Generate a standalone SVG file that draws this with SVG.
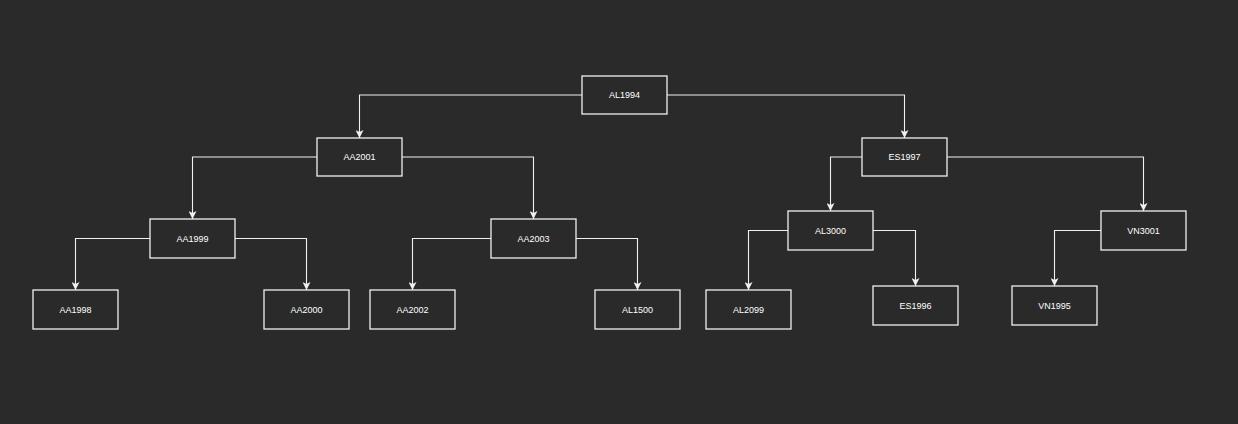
<svg xmlns="http://www.w3.org/2000/svg" width="1238" height="424" viewBox="0 0 1238 424">
<style>
.n rect{fill:#2a2a2a;stroke:#f0f0f0;stroke-width:1.3}
.n text{fill:#ffffff;font-family:"Liberation Sans",Arial,sans-serif;font-size:9px;text-anchor:middle;dominant-baseline:central}
.e path{fill:none;stroke:#f0f0f0;stroke-width:1.1;marker-end:url(#arr)}
</style>
<defs>
<marker id="arr" viewBox="0 0 8 8" refX="8" refY="4" markerWidth="8" markerHeight="8" markerUnits="userSpaceOnUse" orient="auto">
<path d="M0,0 L8,4 L0,8 L2,4 z" fill="#f0f0f0"/>
</marker>
</defs>
<rect width="1238" height="424" fill="#2a2a2a"/>
<g class="e" id="edges">
<path d="M582,95 H359.5 V138"/>
<path d="M667,95 H904.5 V138"/>
<path d="M317,157 H192.5 V219"/>
<path d="M402,157 H533.5 V219"/>
<path d="M150,238.5 H75.5 V290"/>
<path d="M235,238.5 H306.5 V290"/>
<path d="M491,238.5 H412.5 V290"/>
<path d="M576,238.5 H637.5 V290"/>
<path d="M862,157 H830.5 V211"/>
<path d="M947,157 H1143.5 V211"/>
<path d="M788,230.5 H748.5 V290"/>
<path d="M873,230.5 H915.5 V286"/>
<path d="M1101,230.5 H1054.5 V286"/>
</g>
<g class="n" id="AL1994"><rect x="582" y="76" width="85" height="38"/><text x="624.5" y="95">AL1994</text></g>
<g class="n" id="AA2001"><rect x="317" y="138" width="85" height="38"/><text x="359.5" y="157">AA2001</text></g>
<g class="n" id="ES1997"><rect x="862" y="138" width="85" height="38"/><text x="904.5" y="157">ES1997</text></g>
<g class="n" id="AA1999"><rect x="150" y="219" width="85" height="39"/><text x="192.5" y="238.5">AA1999</text></g>
<g class="n" id="AA2003"><rect x="491" y="219" width="85" height="39"/><text x="533.5" y="238.5">AA2003</text></g>
<g class="n" id="AL3000"><rect x="788" y="211" width="85" height="39"/><text x="830.5" y="230.5">AL3000</text></g>
<g class="n" id="VN3001"><rect x="1101" y="211" width="85" height="39"/><text x="1143.5" y="230.5">VN3001</text></g>
<g class="n" id="AA1998"><rect x="33" y="290" width="85" height="39"/><text x="75.5" y="309.5">AA1998</text></g>
<g class="n" id="AA2000"><rect x="264" y="290" width="85" height="39"/><text x="306.5" y="309.5">AA2000</text></g>
<g class="n" id="AA2002"><rect x="370" y="290" width="85" height="39"/><text x="412.5" y="309.5">AA2002</text></g>
<g class="n" id="AL1500"><rect x="595" y="290" width="85" height="39"/><text x="637.5" y="309.5">AL1500</text></g>
<g class="n" id="AL2099"><rect x="706" y="290" width="85" height="39"/><text x="748.5" y="309.5">AL2099</text></g>
<g class="n" id="ES1996"><rect x="873" y="286" width="85" height="39"/><text x="915.5" y="305.5">ES1996</text></g>
<g class="n" id="VN1995"><rect x="1012" y="286" width="85" height="39"/><text x="1054.5" y="305.5">VN1995</text></g>
</svg>
